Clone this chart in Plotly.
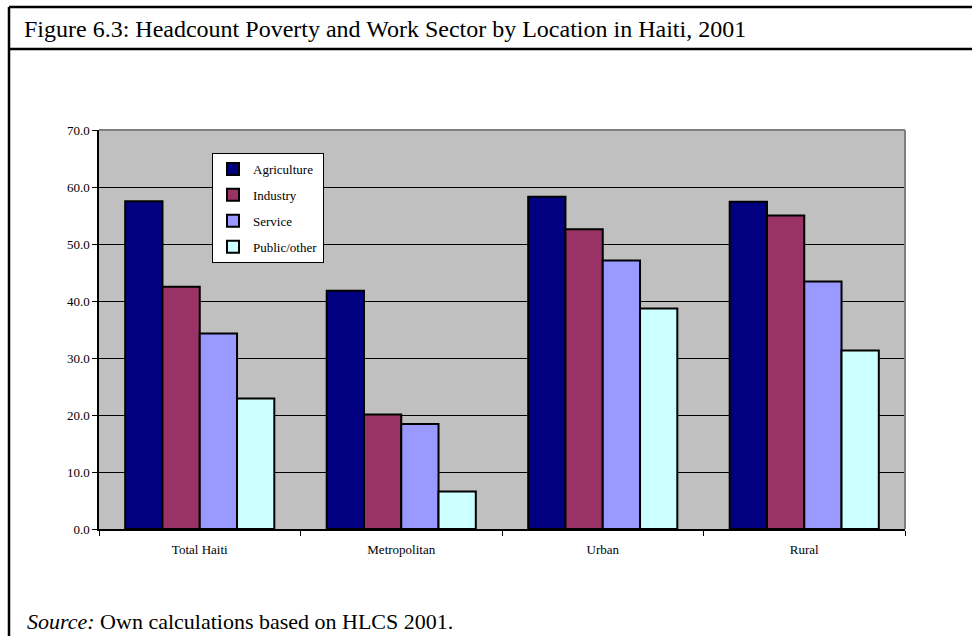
import plotly.graph_objects as go

# data
locations = ['Total Haiti', 'Metropolitan', 'Urban', 'Rural']
agriculture = [57.5, 41.8, 58.3, 57.4]
industry = [42.5, 20.1, 52.6, 55.0]
service = [34.3, 18.4, 47.1, 43.4]
public_other = [22.9, 6.6, 38.7, 31.3]

y_ticks = [0, 10, 20, 30, 40, 50, 60, 70]

series = [
    ('Agriculture', agriculture, '#000080'),
    ('Industry', industry, '#993366'),
    ('Service', service, '#9999FF'),
    ('Public/other', public_other, '#CCFFFF'),
]

SERIF = 'Liberation Serif, Times New Roman, serif'

fig = go.Figure()
for i, (name, vals, col) in enumerate(series):
    fig.add_trace(go.Bar(
        x=locations, y=vals, name=name, legendgroup=str(i),
        marker=dict(color=col, line=dict(color='black', width=2)),
    ))

# plot area in pixels: x 99..905, y 130..529
W, H = 972, 636
L, R, T, B = 99, 905, 130, 529


def px(x):
    return (x - L) / (R - L)


def py(y):
    return (B - y) / (B - T)


shapes = [
    # gray border on top and right of the plot area
    dict(type='line', xref='paper', yref='paper', x0=0, x1=1, y0=1, y1=1,
         line=dict(color='#808080', width=2)),
    dict(type='line', xref='paper', yref='paper', x0=1, x1=1, y0=0, y1=1,
         line=dict(color='#808080', width=2)),
    # outer frame of the figure box
    dict(type='line', xref='paper', yref='paper', x0=px(9), x1=px(W + 5), y0=py(7), y1=py(7),
         line=dict(color='black', width=2.5)),
    dict(type='line', xref='paper', yref='paper', x0=px(9), x1=px(W + 5), y0=py(49), y1=py(49),
         line=dict(color='black', width=2.5)),
    dict(type='line', xref='paper', yref='paper', x0=px(9), x1=px(9), y0=py(7), y1=py(H + 5),
         line=dict(color='black', width=2.5)),
]

annotations = [
    dict(text='Figure 6.3: Headcount Poverty and Work Sector by Location in Haiti, 2001',
         xref='paper', yref='paper', x=px(22), y=py(29), xanchor='left', yanchor='middle',
         showarrow=False, font=dict(family=SERIF, size=24, color='black')),
    dict(text='<i>Source:</i> Own calculations based on HLCS 2001.',
         xref='paper', yref='paper', x=px(25), y=py(621), xanchor='left', yanchor='middle',
         showarrow=False, font=dict(family=SERIF, size=22, color='black')),
]

fig.update_layout(
    width=W, height=H,
    margin=dict(l=L, r=W - R, t=T, b=H - B, pad=0),
    paper_bgcolor='white', plot_bgcolor='#C0C0C0',
    barmode='group', bargap=0.26, bargroupgap=0,
    font=dict(family=SERIF, size=13, color='black'),
    showlegend=True,
    legend=dict(x=px(212), y=py(153), xanchor='left', yanchor='top',
                bgcolor='white', bordercolor='black', borderwidth=1,
                font=dict(family=SERIF, size=13, color='black'),
                traceorder='grouped', tracegroupgap=6),
    shapes=shapes, annotations=annotations,
)
fig.update_xaxes(showline=True, linecolor='black', linewidth=1.5,
                 ticks='outside', tickson='boundaries', ticklen=5, tickcolor='black',
                 showgrid=False, tickfont=dict(size=13), ticklabelstandoff=8)
fig.update_yaxes(range=[0, 70], tickvals=y_ticks, tickformat='.1f',
                 showline=True, linecolor='black', linewidth=1.5,
                 ticks='outside', ticklen=5, tickcolor='black',
                 showgrid=True, gridcolor='black', gridwidth=1,
                 zeroline=False, tickfont=dict(size=13))

# the page body has a default 8px margin; drop it so the figure fills the window
fig.write_html('out.html', config={'displayModeBar': False},
               post_script="document.body.style.margin='0';")
